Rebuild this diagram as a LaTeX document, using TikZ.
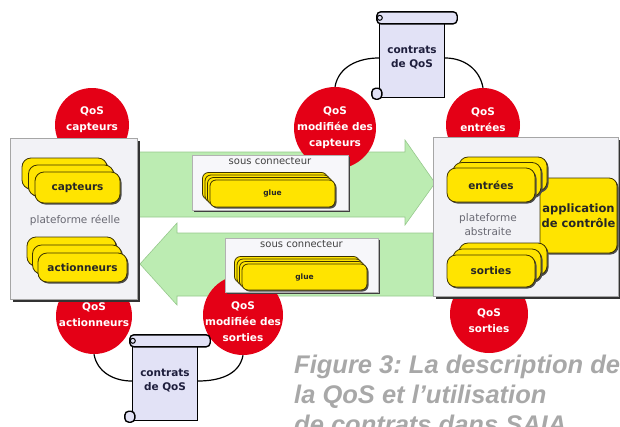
\documentclass[tikz,border=0pt]{standalone}
\usepackage{fontspec}
\setmainfont{DejaVu Sans}
\newfontfamily\legende{Liberation Sans}
\usetikzlibrary{positioning,shadows}
\frenchspacing

\definecolor{qosred}{RGB}{228,0,22}
\definecolor{cardyellow}{RGB}{255,228,0}
\definecolor{cardline}{RGB}{60,50,0}
\definecolor{arrowgreen}{RGB}{188,236,178}
\definecolor{arrowline}{RGB}{150,200,140}
\definecolor{boxgrey}{RGB}{242,242,246}
\definecolor{scrollfill}{RGB}{226,226,246}
\definecolor{captiongrey}{RGB}{168,168,168}
\definecolor{labelgrey}{RGB}{105,105,115}
\definecolor{inknavy}{RGB}{30,30,60}

% pile de cartes : liste, nom, x, y, dx, dy, options, texte
\newcommand{\cartes}[8]{%
  \foreach \k in {#1}
    \node[card, #7] (#2-\k) at ({#3+(#5)*\k},{#4+(#6)*\k}) {};
  \node[card, #7] (#2) at (#3,#4) {#8};
}

% parchemin des contrats
\newcommand{\contrat}[2]{%
  \node[parchemin] (#1) at (#2) {contrats\\de QoS};
  \draw[rouleau] ([xshift=-2pt,yshift=6pt]#1.north west) rectangle ([xshift=12pt,yshift=-6pt]#1.north east);
  \draw[line width=1pt] ([xshift=1pt]#1.north west) circle (2.5pt);
  \draw[rouleau] ([xshift=-7pt,yshift=-1pt]#1.south west) rectangle ([xshift=3pt,yshift=10pt]#1.south west);
}

\begin{document}
\begin{tikzpicture}[x=1pt, y=1pt,
  qos/.style={circle, fill=qosred, minimum size=#1, inner sep=0pt},
  qoslabel/.style={text=white, font=\bfseries\fontsize{10.5}{16}\selectfont, align=center, inner sep=0pt},
  fleche/.style={fill=arrowgreen, draw=arrowline, line width=0.6pt},
  lien/.style={line width=1.2pt},
  parchemin/.style={draw, line width=1.4pt, fill=scrollfill, minimum width=65pt, minimum height=79pt, align=center, text=inknavy, font=\bfseries\fontsize{10.5}{14}\selectfont},
  rouleau/.style={draw, line width=1.4pt, fill=scrollfill, rounded corners=4pt},
  platform/.style={draw=black!35, fill=boxgrey, inner sep=0pt, drop shadow={shadow xshift=2.5pt, shadow yshift=-2.5pt, fill=black!80, opacity=1}},
  platlabel/.style={text=labelgrey, font=\fontsize{10.5}{14}\selectfont, align=center, inner sep=0pt},
  connbox/.style={draw=black!30, fill=boxgrey!60!white, inner sep=0pt, drop shadow={shadow xshift=2pt, shadow yshift=-2pt, fill=black!75, opacity=1}},
  connlabel/.style={text=black!75, font=\fontsize{10}{12}\selectfont, inner sep=1pt},
  card/.style={draw=cardline, fill=cardyellow, line width=0.8pt, rounded corners=9pt, inner sep=0pt, text=black!85, font=\bfseries\fontsize{10.5}{14}\selectfont, drop shadow={shadow xshift=1.5pt, shadow yshift=-1.5pt, fill=black!70, opacity=1}},
  glue/.style={rounded corners=6pt, font=\bfseries\fontsize{7.5}{9}\selectfont},
  caption/.style={text=captiongrey, font=\legende\bfseries\itshape\fontsize{25.5}{30}\selectfont, align=left, inner sep=0pt}]
\useasboundingbox (0,0) rectangle (620,-426);

% fleches vertes
\draw[fleche] (137,-152) -- (405,-152) -- (405,-140) -- (435,-183) -- (405,-225) -- (405,-217) -- (137,-217) -- cycle;
\draw[fleche] (433,-233) -- (177,-233) -- (177,-223) -- (140,-264) -- (177,-305) -- (177,-296) -- (433,-296) -- cycle;

% cercles QoS
\node[qos=74pt] (qcapt) at (92,-125) {};
\node[qos=82pt] (qmodc) at (335,-128) {};
\node[qos=74pt] (qent) at (483,-125) {};
\node[qos=76pt] (qact) at (94,-316) {};
\node[qos=80pt] (qmods) at (243,-315) {};
\node[qos=78pt] (qsort) at (489,-314) {};
\node[qoslabel] (qcapt-t) at (92,-120) {QoS\\capteurs};
\node[qoslabel] (qmodc-t) at (335,-128) {QoS\\modifiée des\\capteurs};
\node[qoslabel] (qent-t) at (483,-120) {QoS\\entrées};
\node[qoslabel] (qact-t) at (94,-315) {QoS\\actionneurs};
\node[qoslabel] (qmods-t) at (243,-322) {QoS\\modifiée des\\sorties};
\node[qoslabel] (qsort-t) at (489,-321) {QoS\\sorties};

% contrats
\contrat{ctop}{412,-58}
\contrat{cbot}{165,-381}
\draw[lien] (qmodc.north) to[out=80, in=180] (ctop.west);
\draw[lien] (ctop.east) to[out=0, in=100] (qent.north);
\draw[lien] (qact.south) to[out=-80, in=180] (cbot.west);
\draw[lien] (cbot.east) to[out=0, in=-100] (qmods.south);

% plateformes
\node[platform, minimum width=127pt, minimum height=161pt] (reelle) at (73.5,-218.5) {};
\node[platform, minimum width=185pt, minimum height=159pt] (abstraite) at (525.5,-216.5) {};
\node[platlabel] (reelle-t) at (75,-220) {plateforme réelle};
\node[platlabel] (abstraite-t) at (488,-225) {plateforme\\abstraite};

% sous connecteurs
\node[connbox, minimum width=156pt, minimum height=55pt] (sc1) at (270,-182.5) {};
\node[connlabel, below=1pt of sc1.north] (sc1-t) {sous connecteur};
\node[connbox, minimum width=153pt, minimum height=54pt] (sc2) at (301.5,-265) {};
\node[connlabel, below=1pt of sc2.north] (sc2-t) {sous connecteur};
\cartes{3,2,1}{glue1}{272.5}{-193.5}{-2.5}{2.5}{glue, minimum width=125pt, minimum height=27pt}{glue}
\cartes{3,2,1}{glue2}{304.5}{-277}{-2.5}{2.5}{glue, minimum width=125pt, minimum height=26pt}{glue}

% cartes jaunes
\cartes{2,1}{capt}{77.5}{-187.5}{-6.5}{7}{minimum width=85pt, minimum height=31pt}{capteurs}
\cartes{2,1}{act}{82.5}{-267.5}{-5.5}{8}{minimum width=89pt, minimum height=29pt}{actionneurs}
\node[card, minimum width=77pt, minimum height=75pt, rounded corners=8pt, align=center, font=\bfseries\fontsize{11.5}{15}\selectfont] (appli) at (578.5,-215.5) {application\\de contrôle};
\cartes{2,1}{ent}{491}{-185}{6}{5.5}{minimum width=88pt, minimum height=34pt}{entrées}
\cartes{2,1}{sort}{491}{-271}{6}{6}{minimum width=88pt, minimum height=32pt}{sorties}

% legende (ligne de base de la derniere ligne)
\node[caption, anchor=base west] (legende) at (294,-433) {Figure 3: La description de\\la QoS et l’utilisation\\de contrats dans SAIA};
\end{tikzpicture}
\end{document}
